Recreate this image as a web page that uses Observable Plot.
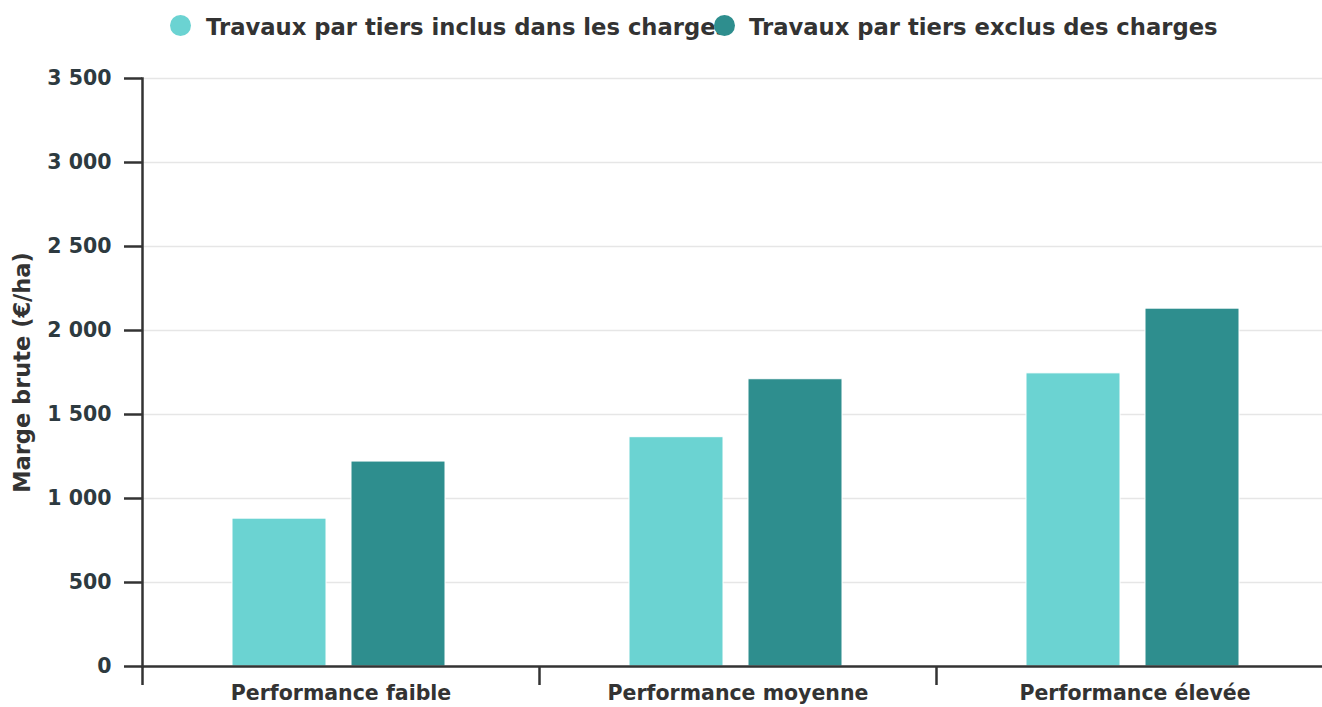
<!DOCTYPE html>
<html>
<head>
<meta charset="utf-8">
<script src="https://cdn.jsdelivr.net/npm/d3@7"></script>
<script src="https://cdn.jsdelivr.net/npm/@observablehq/plot@0.6"></script>
<style>
  html, body { margin: 0; padding: 0; background: #fff; }
  #wrap { position: relative; width: 1322px; height: 707px; overflow: hidden; font-family: "DejaVu Sans", sans-serif; font-weight: bold; }
  #legend { position: relative; height: 50px; }
  .dot { position: absolute; width: 21px; height: 21px; border-radius: 50%; top: 15px; }
  .lab { position: absolute; top: 13px; font-size: 22.7px; color: #333; white-space: nowrap; line-height: 28px; }
</style>
</head>
<body>
<div id="wrap">
  <div id="legend"></div>
  <div id="chart"></div>
</div>
<script>
const categories = ["Performance faible", "Performance moyenne", "Performance élevée"];
const seriesNames = ["Travaux par tiers inclus dans les charges", "Travaux par tiers exclus des charges"];
const inclus = [880, 1365, 1745];
const exclus = [1220, 1710, 2130];
const colors = ["#6bd3d2", "#2e8e8e"];
const yTicks = [0, 500, 1000, 1500, 2000, 2500, 3000, 3500];
const yLabel = "Marge brute (€/ha)";

const data = [];
categories.forEach((c, i) => {
  data.push({cat: c, serie: seriesNames[0], value: inclus[i]});
  data.push({cat: c, serie: seriesNames[1], value: exclus[i]});
});

// Legend (HTML)
const legend = document.getElementById("legend");
const legendPos = [{dot: 170, text: 206}, {dot: 714, text: 749}];
seriesNames.forEach((s, i) => {
  const t = document.createElement("div");
  t.className = "lab"; t.textContent = s; t.style.left = legendPos[i].text + "px";
  legend.appendChild(t);
});
seriesNames.forEach((s, i) => {
  const d = document.createElement("div");
  d.className = "dot"; d.style.background = colors[i]; d.style.left = legendPos[i].dot + "px";
  legend.appendChild(d);
});

const fmt = d => d3.format(",")(d).replace(/,/g, " ");
const W = 1322, H = 657;
const mLeft = 142, mRight = -11;
const half = (W - mLeft - mRight) / categories.length / 2;

const chart = Plot.plot({
  width: W,
  height: H,
  marginLeft: mLeft,
  marginRight: mRight,
  marginTop: 28,
  marginBottom: 41,
  style: {fontFamily: "DejaVu Sans", fontWeight: "bold", fontSize: "20px", color: "#333", background: "#fff"},
  fx: {domain: categories, padding: 0, label: null, axis: null},
  x: {domain: seriesNames, paddingInner: 0.21, paddingOuter: 0.773, align: 0.489, axis: null},
  y: {domain: [0, 3500], ticks: yTicks, label: null},
  color: {domain: seriesNames, range: colors},
  marks: [
    Plot.gridY(yTicks, {stroke: "#e6e6e6", strokeOpacity: 1, strokeWidth: 1.5}),
    Plot.barY(data, {fx: "cat", x: "serie", y: "value", fill: "serie", stroke: "#fff", strokeWidth: 1}),
    Plot.ruleY([0], {stroke: "#333", strokeWidth: 2.5}),
    Plot.frame({anchor: "left", facetAnchor: "left", stroke: "#333", strokeWidth: 2.5}),
    Plot.axisY(yTicks, {tickSize: 18, tickPadding: 13, tickFormat: fmt, stroke: "#333", strokeWidth: 2.5, fill: "#2d3a40", fontSize: 20.5, label: null}),
    Plot.text([yLabel], {frameAnchor: "left", facetAnchor: "left", textAnchor: "middle", rotate: -90, dx: -120, fontSize: 22.5, fill: "#333"}),
    Plot.axisFx({anchor: "bottom", tickSize: 19, tickFormat: () => "", dx: -half, stroke: "#333", strokeWidth: 2.5, label: null}),
    Plot.axisFx({anchor: "bottom", tickSize: 0, tickPadding: 19, fontSize: 20.5, fill: "#333", label: null})
  ]
});
document.getElementById("chart").appendChild(chart);
</script>
</body>
</html>
